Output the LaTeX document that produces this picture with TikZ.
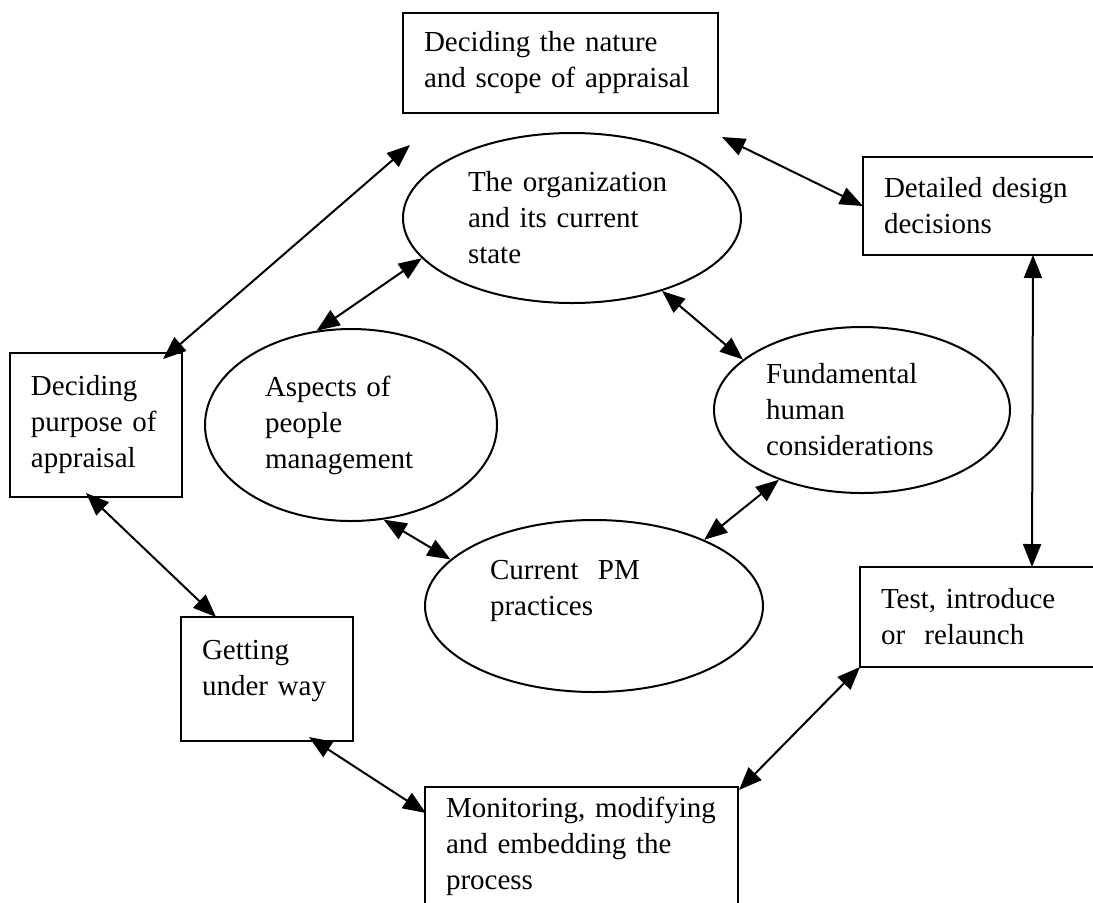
\documentclass[tikz,border=0pt]{standalone}
\usepackage{fontspec}
\setmainfont{Liberation Serif}
\usetikzlibrary{arrows.meta,shapes.geometric}

\begin{document}
\begin{tikzpicture}[x=0.5pt,y=-0.5pt,
  box/.style={draw, line width=1.3pt, rectangle, anchor=north west, align=left,
    inner xsep=10.5pt, inner ysep=0pt, outer sep=0pt, font=\fontsize{14.5pt}{18pt}\selectfont},
  oval/.style={draw, line width=1pt, ellipse, inner sep=0pt, align=left,
    font=\fontsize{14.5pt}{18pt}\selectfont},
  link/.style={line width=1pt, {Triangle[length=11.5pt,width=9pt]}-{Triangle[length=11.5pt,width=9pt]}}]
\useasboundingbox (0,0) rectangle (1093,902);
% the boxes round the outside
\node[box, text width=136.5pt, minimum height=50pt] (scope) at (403,13) {Deciding the nature\\and scope of appraisal};
\node[box, text width=96pt, minimum height=49pt] (design) at (863,157) {Detailed design\\decisions};
\node[box, text width=97pt, minimum height=50pt] (test) at (860,567) {Test, introduce\\or~~relaunch};
\node[box, text width=65pt, minimum height=72pt] (purpose) at (10,353) {Deciding\\purpose of\\appraisal};
\node[box, text width=65pt, minimum height=62pt, text depth=29.5pt] (getting) at (181,617) {Getting\\under way};
\node[box, text width=135.5pt, minimum height=59pt] (monitor) at (425,787) {Monitoring, modifying\\and embedding the\\process};
% the ellipses in the middle
\node[oval, minimum width=169pt, minimum height=85pt, text width=104pt] (org) at (572,218) {The organization\\and its current\\state};
\node[oval, minimum width=146pt, minimum height=96pt, text width=86pt] (aspects) at (351,425) {Aspects of\\people\\management};
\node[oval, minimum width=148pt, minimum height=83pt, text width=96pt] (human) at (862,410) {Fundamental\\human\\considerations};
\node[oval, minimum width=169pt, minimum height=86pt, text width=104pt] (practices) at (594,606) {Current~~PM\\practices\\\mbox{}};
% connectors
\draw[link] ([shift={(7,32)}]scope.south west) -- ([shift={(-19,6)}]purpose.north east);
\draw[link] ([shift={(4,24)}]scope.south east) -- (design.west);
\draw[link] ([xshift=26.5pt]design.south) -- ([xshift=27pt]test.north);
\draw[link] ([shift={(1,3)}]monitor.north east) -- (test.south west);
\draw[link] ([shift={(-44,-4)}]getting.south east) -- ([shift={(1,26)}]monitor.north west);
\draw[link] ([shift={(-10,-4)}]purpose.south) -- ([shift={(35,0)}]getting.north west);
\draw[link] (org.195) -- (aspects.110);
\draw[link] (org.321) -- (human.157);
\draw[link] (human.220) -- (practices.31);
\draw[link] (aspects.289) -- (practices.162);
\end{tikzpicture}
\end{document}
